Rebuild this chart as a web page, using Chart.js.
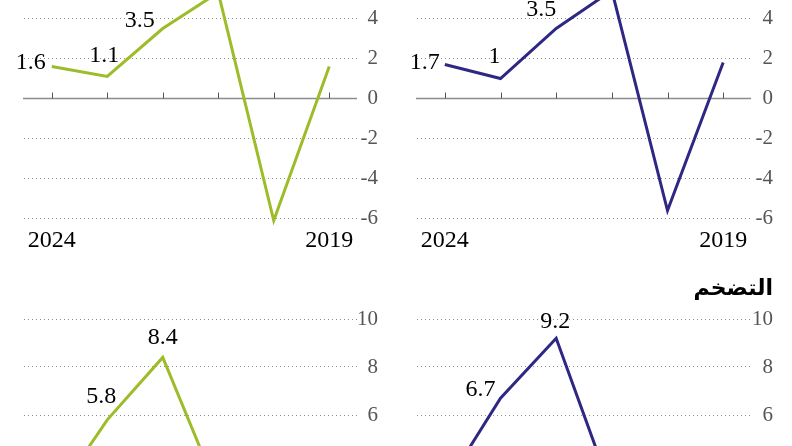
<!DOCTYPE html>
<html>
<head>
<meta charset="utf-8">
<script src="https://cdn.jsdelivr.net/npm/chart.js@4/dist/chart.umd.min.js"></script>
<style>
  html, body { margin: 0; padding: 0; background: #fff; overflow: hidden; width: 792px; height: 446px; }
  canvas { position: absolute; }
</style>
</head>
<body>
<canvas id="growthEuro" width="396" height="262" style="left:0;top:0"></canvas>
<canvas id="growthEU" width="396" height="262" style="left:396px;top:0"></canvas>
<canvas id="inflationEuro" width="396" height="330" style="left:0;top:262px"></canvas>
<canvas id="inflationEU" width="396" height="330" style="left:396px;top:262px"></canvas>
<script>
const years = ['2024', '2023', '2022', '2021', '2020', '2019'];

const growthEuro = [1.6, 1.1, 3.5, 5.3, -6.1, 1.6];
const growthEU = [1.7, 1.0, 3.5, 5.4, -5.6, 1.8];
const inflationEuro = [2.4, 5.8, 8.4, 2.8, 0.3, 1.2];
const inflationEU = [3.0, 6.7, 9.2, 2.8, 0.7, 1.5];

const growthTicks = [-6, -4, -2, 0, 2, 4];
const inflationTicks = [0, 2, 4, 6, 8, 10];

const inflationTitle = 'التضخم';

const GREEN = '#9dbc2a';
const BLUE = '#2e2884';
const SERIF = '"Liberation Serif", "DejaVu Serif", serif';

// solid zero line with small tick marks above it
const zeroAxis = {
  id: 'zeroAxis',
  beforeDatasetsDraw(chart) {
    const { ctx, chartArea, scales: { x, y } } = chart;
    const y0 = Math.round(y.getPixelForValue(0)) + 0.5;
    ctx.save();
    ctx.strokeStyle = '#8c8c8c';
    ctx.lineWidth = 1.5;
    ctx.beginPath();
    ctx.moveTo(chartArea.left - 1, y0);
    ctx.lineTo(chartArea.right, y0);
    ctx.stroke();
    ctx.strokeStyle = '#555';
    ctx.lineWidth = 1;
    ctx.beginPath();
    x.ticks.forEach((t, i) => {
      const px = Math.round(x.getPixelForTick(i)) + 0.5;
      ctx.moveTo(px, y0 - 6);
      ctx.lineTo(px, y0);
    });
    ctx.stroke();
    ctx.restore();
  },
};

// value labels next to some points
const pointLabels = {
  id: 'pointLabels',
  afterDatasetsDraw(chart, args, options) {
    const { ctx } = chart;
    const meta = chart.getDatasetMeta(0);
    const data = chart.data.datasets[0].data;
    ctx.save();
    ctx.font = '24px ' + SERIF;
    ctx.fillStyle = '#000';
    ctx.textAlign = 'center';
    ctx.textBaseline = 'middle';
    (options.shift || []).forEach((d, i) => {
      if (!d || !meta.data[i]) return;
      const p = meta.data[i];
      ctx.fillText(String(data[i]), p.x + d[0], p.y + d[1]);
    });
    ctx.restore();
  },
};

function panel(id, values, color, cfg) {
  new Chart(document.getElementById(id), {
    type: 'line',
    data: {
      labels: years,
      datasets: [
        {
          data: values,
          borderColor: color,
          borderWidth: 3,
          pointRadius: 0,
          tension: 0,
        },
      ],
    },
    options: {
      responsive: false,
      animation: false,
      layout: {
        padding: { top: cfg.padTop, left: cfg.padLeft, right: cfg.padRight, bottom: 0 },
      },
      scales: {
        x: {
          offset: true,
          grid: { display: false },
          border: { display: false },
          ticks: {
            autoSkip: false,
            maxRotation: 0,
            padding: -8,
            color: '#000',
            font: { family: SERIF, size: 24, lineHeight: 1 },
            callback(value, index, ticks) {
              return index === 0 || index === ticks.length - 1 ? this.getLabelForValue(value) : '';
            },
          },
          afterFit(axis) {
            axis.height = 33;
            axis.paddingLeft = 0;
            axis.paddingRight = 0;
          },
        },
        y: {
          position: 'right',
          min: cfg.min,
          max: cfg.max,
          grid: {
            drawTicks: false,
            color: (c) => (c.tick && c.tick.value === 0 ? 'rgba(0,0,0,0)' : '#8f8f8f'),
            lineWidth: 1,
          },
          border: { display: false, dash: [1, 3] },
          ticks: {
            crossAlign: 'far',
            padding: 0,
            color: '#555',
            font: { family: SERIF, size: 21 },
          },
          afterBuildTicks(axis) {
            axis.ticks = cfg.ticks.map((v) => ({ value: v }));
          },
          afterFit(axis) {
            axis.width = cfg.axisWidth;
            axis.paddingTop = 0;
            axis.paddingBottom = 0;
          },
        },
      },
      plugins: {
        legend: { display: false },
        tooltip: { enabled: false },
        title: {
          display: !!cfg.title,
          text: cfg.title || '',
          align: 'end',
          color: '#000',
          font: { family: '"DejaVu Sans", sans-serif', size: 22, weight: 'bold', lineHeight: 1.2 },
          padding: { top: 14, bottom: 16.6 },
        },
        pointLabels: { shift: cfg.shift },
      },
    },
    plugins: [zeroAxis, pointLabels],
  });
}

panel('growthEuro', growthEuro, GREEN, {
  min: -6.525, max: 4.925, ticks: growthTicks,
  padTop: 0, padLeft: 24, padRight: 18, axisWidth: 21,
  shift: [[-21, -4], [-3, -21], [-23, -8]],
});
panel('growthEU', growthEU, BLUE, {
  min: -6.525, max: 4.925, ticks: growthTicks,
  padTop: 0, padLeft: 21, padRight: 19, axisWidth: 22,
  shift: [[-20, -2], [-6, -22], [-15, -19]],
});
panel('inflationEuro', inflationEuro, GREEN, {
  min: 0, max: 10, ticks: inflationTicks,
  padTop: 57, padLeft: 24, padRight: 18, axisWidth: 21,
  shift: [null, [-6, -23], [0, -20]],
});
panel('inflationEU', inflationEU, BLUE, {
  min: 0, max: 10, ticks: inflationTicks, title: inflationTitle,
  padTop: 0, padLeft: 21, padRight: 19, axisWidth: 22,
  shift: [null, [-20, -8], [-1, -16]],
});
</script>
</body>
</html>
